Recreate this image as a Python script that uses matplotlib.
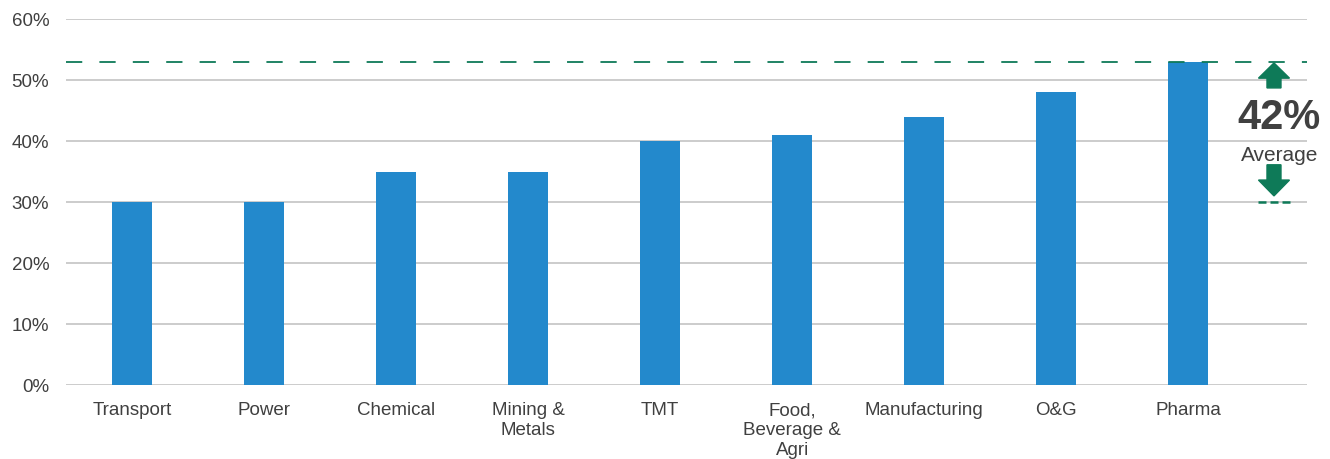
import matplotlib
matplotlib.use('Agg')
from matplotlib import pyplot as plt
import numpy as np

plt.rcParams['font.family'] = ['Liberation Sans', 'DejaVu Sans']

# Data
sectors = ["Transport", "Power", "Chemical", "Mining &\nMetals", "TMT",
           "Food,\nBeverage &\nAgri", "Manufacturing", "O&G", "Pharma"]
shares = [30, 30, 35, 35, 40, 41, 44, 48, 53]
y_ticks = [0, 10, 20, 30, 40, 50, 60]
average = 42
top_line = 53
low_line = 30

bar_color = "#2389CC"
green = "#0E7A58"
text_color = "#404040"

fig = plt.figure(figsize=(13.3, 4.59), dpi=100)
ax = fig.add_axes([0.0496, 0.1612, 0.9331, 0.7974])

x = np.arange(len(sectors))
ax.bar(x, shares, width=0.30, color=bar_color, zorder=3)

ax.set_xlim(-0.5, 8.9)
ax.set_ylim(0, 60)
ax.set_yticks(y_ticks)
ax.set_yticklabels([f"{v}%" for v in y_ticks])
ax.set_xticks(x)
ax.set_xticklabels(sectors, linespacing=1.2)
ax.tick_params(axis='both', length=0, labelsize=13.5, colors=text_color)
ax.tick_params(axis='x', pad=12.5)
ax.tick_params(axis='y', pad=12)
ax.grid(axis='y', color="#C4C4C4", linewidth=1.2, zorder=0)
for s in ax.spines.values():
    s.set_visible(False)

# dashed reference lines
ax.axhline(top_line, color=green, linewidth=1.3, dashes=(9, 9.5), zorder=4)
ax.plot([8.53, 8.8], [low_line, low_line], color=green, linewidth=1.8,
        dashes=(3.2, 1.6), zorder=4)

# arrows and average label
ax_x = 8.65
ax.arrow(ax_x, 48.7, 0, 4.1, width=0.106, head_width=0.235, head_length=2.5,
         length_includes_head=True, color=green, zorder=5, clip_on=False)
ax.arrow(ax_x, 36.1, 0, -5.1, width=0.106, head_width=0.235, head_length=2.6,
         length_includes_head=True, color=green, zorder=5, clip_on=False)
ax.text(8.69, 43.7, f"{average}%", ha='center', va='center', fontsize=30,
        fontweight='bold', color=text_color)
ax.text(8.69, 37.7, "Average", ha='center', va='center', fontsize=15,
        color=text_color)

fig.savefig("out.png", dpi=100)
